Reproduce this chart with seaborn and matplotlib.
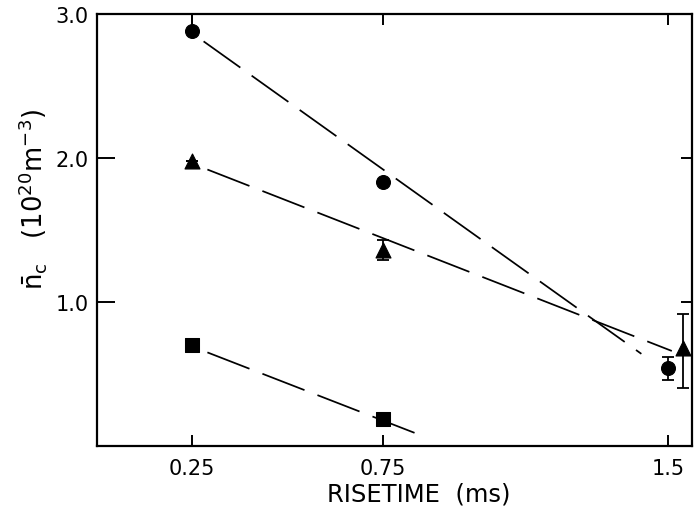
import numpy as np
import matplotlib
matplotlib.use("Agg")
import matplotlib.pyplot as plt
import seaborn as sns
import pandas as pd

# ---- data ----
circle_x = [0.25, 0.75, 1.50]
circle_y = [2.88, 1.83, 0.54]
circle_err_lo = [0.0, 0.0, 0.08]
circle_err_hi = [0.2, 0.0, 0.08]

tri_x = [0.25, 0.75, 1.54]
tri_y = [1.98, 1.36, 0.68]
tri_err_lo = [0.0, 0.07, 0.28]
tri_err_hi = [0.0, 0.07, 0.24]

sq_x = [0.25, 0.75]
sq_y = [0.70, 0.19]

# dashed fit lines (end points)
fit_circle_x = [0.28, 1.43]
fit_circle_y = [2.81, 0.64]
fit_tri_x = [0.29, 1.51]
fit_tri_y = [1.92, 0.66]
fit_sq_x = [0.29, 0.855]
fit_sq_y = [0.65, 0.07]

xticks = [0.25, 0.75, 1.5]
xtick_labels = ["0.25", "0.75", "1.5"]
yticks = [1.0, 2.0, 3.0]
ytick_labels = ["1.0", "2.0", "3.0"]

sns.set_theme(style="ticks")
plt.rcParams['font.family'] = ['DejaVu Sans']
plt.rcParams['mathtext.fontset'] = 'dejavusans'

fig = plt.figure(figsize=(6.95, 5.10), dpi=100)
ax = fig.add_axes([97/695, 1-447/510, (692-97)/695, (447-15)/510])

dash = (26, 8)
for fx, fy in [(fit_circle_x, fit_circle_y), (fit_tri_x, fit_tri_y), (fit_sq_x, fit_sq_y)]:
    df = pd.DataFrame({"x": fx, "y": fy})
    sns.lineplot(data=df, x="x", y="y", ax=ax, color="black", lw=1.25,
                 dashes=False, linestyle=(0, dash))

ek = dict(fmt="none", ecolor="black", elinewidth=1.3, capsize=4, capthick=1.3)
ax.errorbar(circle_x, circle_y, yerr=[circle_err_lo, circle_err_hi], **ek)
ax.errorbar(tri_x, tri_y, yerr=[tri_err_lo, tri_err_hi], **ek)

sns.scatterplot(x=circle_x, y=circle_y, ax=ax, marker="o", s=100, color="black", edgecolor="black", zorder=5)
sns.scatterplot(x=tri_x, y=tri_y, ax=ax, marker="^", s=115, color="black", edgecolor="black", zorder=5)
sns.scatterplot(x=sq_x, y=sq_y, ax=ax, marker="s", s=90, color="black", edgecolor="black", zorder=5)

ax.set_xlim(0.0, 1.563)
ax.set_ylim(0.0, 3.0)
ax.set_xticks(xticks)
ax.set_xticklabels(xtick_labels)
ax.set_yticks(yticks)
ax.set_yticklabels(ytick_labels)

for s in ax.spines.values():
    s.set_linewidth(1.6)
    s.set_color("black")
    s.set_visible(True)

ax.tick_params(axis="x", which="both", direction="in", top=True, bottom=True,
               length=8, width=1.4, labelsize=15, pad=9, colors="black")
ax.tick_params(axis="y", which="both", direction="in", left=True, right=True,
               length=8, width=1.4, labelsize=15, pad=6, colors="black")
for t in ax.yaxis.get_major_ticks():
    t.tick1line.set_markersize(13)
    t.tick2line.set_markersize(8)

ax.set_xlabel("RISETIME  (ms)", fontsize=17.5, color="black")
ax.xaxis.set_label_coords(0.54, -0.083)
ax.set_ylabel(r"$\bar{\mathrm{n}}_\mathrm{c}$   (10$^{20}$m$^{-3}$)", fontsize=18.5, color="black")
ax.yaxis.set_label_coords(-0.08, 0.572)

fig.savefig("out.png", dpi=100, facecolor="white")
